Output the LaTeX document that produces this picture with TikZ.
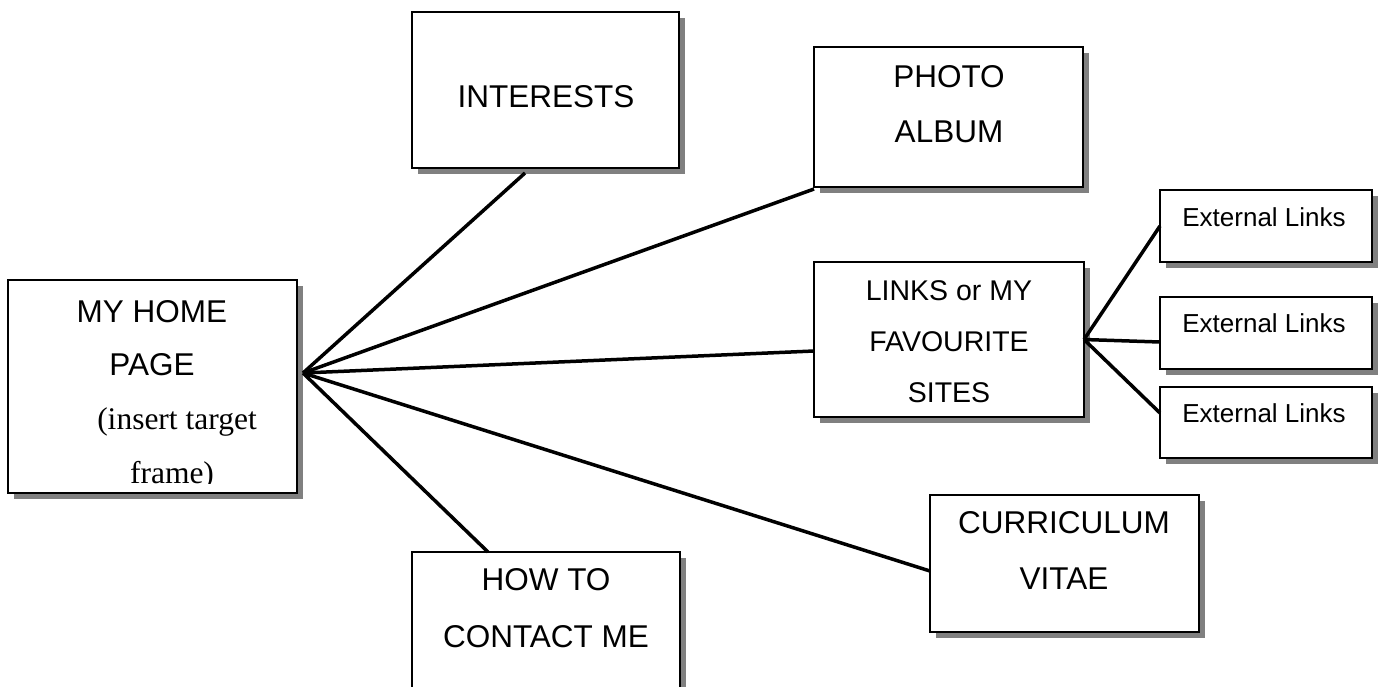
\documentclass[tikz,border=0pt]{standalone}
\usepackage{fontspec}
\setmainfont{Liberation Serif}
\newfontfamily\arialf{Liberation Sans}
\usetikzlibrary{calc,shadows}
\definecolor{shadowgray}{RGB}{128,128,128}
\tikzset{
  boxnode/.style={draw=black, line width=2pt, fill=white, rectangle, inner sep=0pt, outer sep=0pt,
    general shadow={fill=shadowgray, shadow xshift=6pt, shadow yshift=-6pt}},
  conn/.style={draw=black, line width=3.5pt},
  txt/.style={anchor=base, inner sep=0pt, font=\arialf\fontsize{31.5}{38}\selectfont},
  txtsm/.style={anchor=base, inner sep=0pt, font=\arialf\fontsize{28.5}{34}\selectfont},
  txtext/.style={anchor=base, inner sep=0pt, font=\arialf\fontsize{26}{31}\selectfont},
  txtserif/.style={anchor=base, inner sep=0pt, font=\rmfamily\fontsize{31.5}{38}\selectfont}
}
\begin{document}
\begin{tikzpicture}[x=1pt,y=-1pt]
\useasboundingbox (0,0) rectangle (1383,686);
\clip (0,0) rectangle (1383,686);
% boxes
\node[boxnode, minimum width=289pt, minimum height=213pt] (home) at (152.5,386.5) {};
\node[boxnode, minimum width=267pt, minimum height=156pt] (interests) at (545.5,90) {};
\node[boxnode, minimum width=269pt, minimum height=140pt] (photo) at (948.5,117) {};
\node[boxnode, minimum width=270pt, minimum height=155pt] (links) at (949,339.5) {};
\node[boxnode, minimum width=212pt, minimum height=72pt] (ext1) at (1266,226) {};
\node[boxnode, minimum width=212pt, minimum height=72pt] (ext2) at (1266,333) {};
\node[boxnode, minimum width=212pt, minimum height=71pt] (ext3) at (1266,422.5) {};
\node[boxnode, minimum width=269pt, minimum height=137pt] (cv) at (1064.5,563.5) {};
\node[boxnode, minimum width=268pt, minimum height=168pt] (howto) at (546,636) {};
% connectors
\coordinate (hub) at (303,373);
\draw[conn] (hub) -- ($(interests.south)+(-20.5,5)$);
\draw[conn] (hub) -- ($(photo.south west)+(0,2)$);
\draw[conn] (hub) -- ($(links.west)+(0,11.5)$);
\draw[conn] (hub) -- ($(cv.west)+(0,7.5)$);
\draw[conn] (hub) -- ($(howto.north)+(-58,0)$);
\draw[conn] (links.east) -- (ext1.west);
\draw[conn] (links.east) -- ($(ext2.west)+(0,9)$);
\draw[conn] (links.east) -- ($(ext3.west)+(0,-9.5)$);
% texts
\begin{scope}
\clip (9,281) rectangle (296,483);
\node[txt] (home1) at (152,322) {MY HOME};
\node[txt] (home2) at (152,375) {PAGE};
\node[txtserif] (home3) at (177,429) {(insert target};
\node[txtserif] (home4) at (172,483) {frame)};
\end{scope}
\node[txt] (interestst) at (546,107) {INTERESTS};
\node[txt] (photo1) at (949,87) {PHOTO};
\node[txt] (photo2) at (949,142) {ALBUM};
\node[txtsm] (links1) at (949,300) {LINKS or MY};
\node[txtsm] (links2) at (949,351) {FAVOURITE};
\node[txtsm] (links3) at (949,402) {SITES};
\node[txtext] (ext1t) at (1264,226) {External Links};
\node[txtext] (ext2t) at (1264,332) {External Links};
\node[txtext] (ext3t) at (1264,422) {External Links};
\node[txt] (cv1) at (1064,533) {CURRICULUM};
\node[txt] (cv2) at (1064,589) {VITAE};
\node[txt] (howto1) at (546,590) {HOW TO};
\node[txt] (howto2) at (546,647) {CONTACT ME};
\end{tikzpicture}
\end{document}
